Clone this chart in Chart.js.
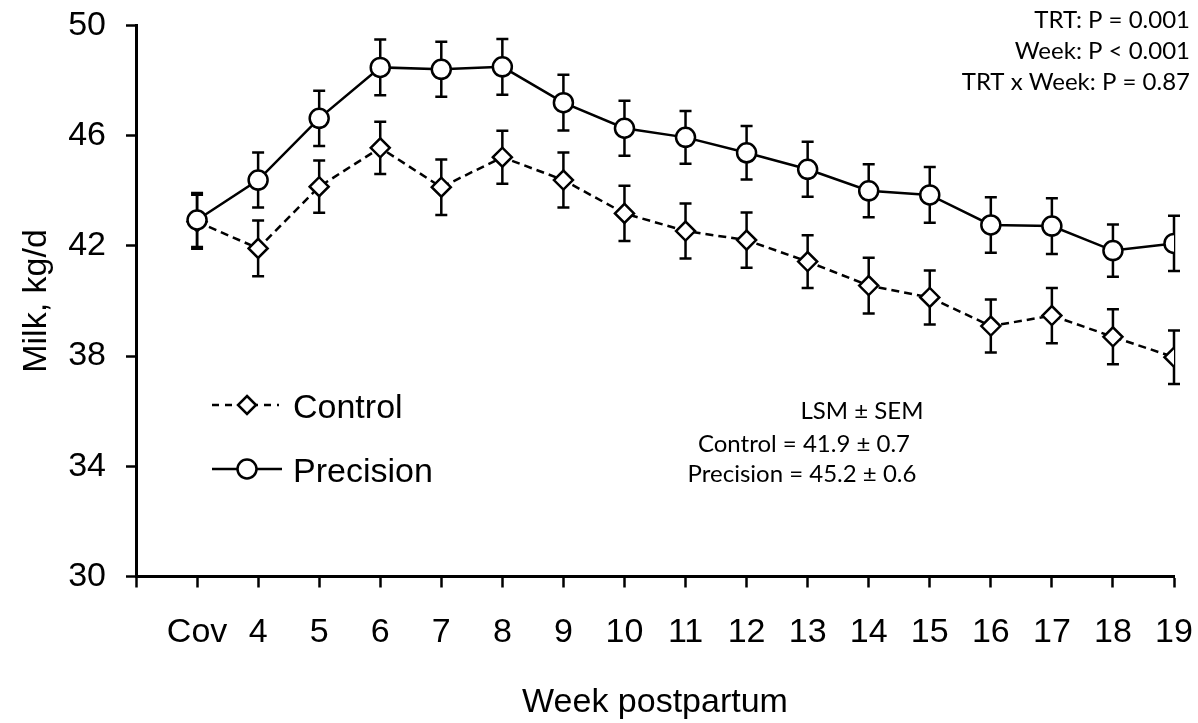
<!DOCTYPE html>
<html>
<head>
<meta charset="utf-8">
<title>Milk yield by week postpartum</title>
<script src="https://cdn.jsdelivr.net/npm/chart.js@4/dist/chart.umd.min.js"></script>
<style>
    html, body { margin: 0; padding: 0; background: #fff; }
    canvas { display: block; }
</style>
</head>
<body>
<canvas id="milk-chart" width="1198" height="723"></canvas>
<script>
// Week labels (Cov = covariate period)
const weeks = ['Cov', '4', '5', '6', '7', '8', '9', '10', '11', '12', '13', '14', '15', '16', '17', '18', '19'];

// Milk yield, kg/d, with SEM for the error bars
const controlMilk = [42.88, 41.91, 44.15, 45.56, 44.13, 45.22, 44.39, 43.18, 42.54, 42.21, 41.43, 40.56, 40.13, 39.09, 39.47, 38.70, 37.96];
const controlSem = [0.98, 1.01, 0.95, 0.95, 1.01, 0.96, 1.00, 1.00, 1.00, 1.00, 0.96, 1.01, 0.98, 0.96, 1.00, 1.00, 0.97];

const precisionMilk = [42.94, 44.39, 46.63, 48.48, 48.41, 48.50, 47.20, 46.27, 45.94, 45.38, 44.78, 44.00, 43.85, 42.76, 42.72, 41.83, 42.09];
const precisionSem = [0.98, 1.00, 1.00, 1.01, 1.00, 1.01, 1.01, 1.00, 0.96, 0.97, 1.00, 0.96, 1.01, 1.01, 1.01, 0.95, 1.00];

const yTicks = [30, 34, 38, 42, 46, 50];

const statLines = ['TRT: P = 0.001', 'Week: P < 0.001', 'TRT x Week: P = 0.87'];
const lsmLines = ['LSM \u00b1 SEM', 'Control = 41.9 \u00b1 0.7', 'Precision = 45.2 \u00b1 0.6'];

const ARIAL = '"Liberation Sans", Arial, sans-serif';
const NOTE_FONT = '24px Lato, "Open Sans", sans-serif';

// Points sit at x = 1..n so there is one empty step before "Cov"
function toPoints(values) {
    return values.map((v, i) => ({ x: i + 1, y: v }));
}

// Let layout.padding alone decide the plot edges
function clearScalePadding(scale) {
    scale.paddingTop = 0;
    scale.paddingBottom = 0;
    scale.paddingLeft = 0;
    scale.paddingRight = 0;
}

// Vertical SEM bars with caps, drawn under the markers
const errorBarPlugin = {
    id: 'errorBars',
    beforeDatasetsDraw(chart) {
        const ctx = chart.ctx;
        const yScale = chart.scales.y;
        ctx.save();
        ctx.strokeStyle = '#000';
        ctx.lineWidth = 2.5;
        chart.data.datasets.forEach((ds, di) => {
            const meta = chart.getDatasetMeta(di);
            meta.data.forEach((pt, i) => {
                const sem = ds.sem[i];
                const val = ds.data[i].y;
                const top = yScale.getPixelForValue(val + sem);
                const bottom = yScale.getPixelForValue(val - sem);
                ctx.beginPath();
                ctx.moveTo(pt.x, top);
                ctx.lineTo(pt.x, bottom);
                ctx.moveTo(pt.x - 6, top);
                ctx.lineTo(pt.x + 6, top);
                ctx.moveTo(pt.x - 6, bottom);
                ctx.lineTo(pt.x + 6, bottom);
                ctx.stroke();
            });
        });
        ctx.restore();
    }
};

// Legend symbols and the statistics text blocks
const notesPlugin = {
    id: 'notes',
    afterDraw(chart) {
        const ctx = chart.ctx;
        ctx.save();

        // legend: line sample, marker, label
        ctx.strokeStyle = '#000';
        ctx.fillStyle = '#fff';
        ctx.lineWidth = 2.5;

        ctx.setLineDash([7, 6]);
        ctx.beginPath();
        ctx.moveTo(212, 405);
        ctx.lineTo(279, 405);
        ctx.stroke();
        ctx.setLineDash([]);
        ctx.beginPath();
        ctx.moveTo(247, 396);
        ctx.lineTo(256, 405);
        ctx.lineTo(247, 414);
        ctx.lineTo(238, 405);
        ctx.closePath();
        ctx.fill();
        ctx.stroke();

        ctx.beginPath();
        ctx.moveTo(212, 469);
        ctx.lineTo(282, 469);
        ctx.stroke();
        ctx.beginPath();
        ctx.arc(247, 469, 9.5, 0, Math.PI * 2);
        ctx.fill();
        ctx.stroke();

        ctx.fillStyle = '#000';
        ctx.font = '34px ' + ARIAL;
        ctx.textAlign = 'left';
        ctx.textBaseline = 'alphabetic';
        ctx.fillText('Control', 293, 418);
        ctx.fillText('Precision', 293, 482);

        // P-values, top right
        ctx.font = NOTE_FONT;
        ctx.textAlign = 'right';
        [27.5, 58.5, 89.5].forEach((y, i) => ctx.fillText(statLines[i], 1190, y));

        // LSM block
        ctx.textAlign = 'center';
        ctx.fillText(lsmLines[0], 862, 419);
        ctx.fillText(lsmLines[1], 804, 451.5);
        ctx.fillText(lsmLines[2], 802, 481.5);

        ctx.restore();
    }
};

const ctx = document.getElementById('milk-chart');

new Chart(ctx, {
    type: 'line',
    data: {
        datasets: [
            {
                label: 'Control',
                data: toPoints(controlMilk),
                sem: controlSem,
                order: 2,
                borderColor: '#000',
                borderWidth: 2.5,
                borderDash: [8, 5],
                pointStyle: 'rectRot',
                pointRadius: 9.5,
                pointBorderWidth: 2.5,
                pointBackgroundColor: '#fff',
                pointBorderColor: '#000',
                tension: 0
            },
            {
                label: 'Precision',
                data: toPoints(precisionMilk),
                sem: precisionSem,
                order: 1,
                borderColor: '#000',
                borderWidth: 2.5,
                pointStyle: 'circle',
                pointRadius: 9.5,
                pointBorderWidth: 2.5,
                pointBackgroundColor: '#fff',
                pointBorderColor: '#000',
                tension: 0
            }
        ]
    },
    options: {
        responsive: false,
        animation: false,
        devicePixelRatio: 1,
        layout: {
            padding: { top: 25.5, right: 24, bottom: 0, left: 0 }
        },
        plugins: {
            legend: { display: false },
            tooltip: { enabled: false }
        },
        scales: {
            x: {
                type: 'linear',
                min: 0,
                max: weeks.length,
                afterFit(scale) {
                    scale.height = 146.5;
                    clearScalePadding(scale);
                },
                ticks: {
                    stepSize: 1,
                    autoSkip: false,
                    maxRotation: 0,
                    padding: 25,
                    color: '#000',
                    font: { family: ARIAL, size: 34 },
                    callback: value => weeks[value - 1] || ''
                },
                grid: {
                    drawOnChartArea: false,
                    tickLength: 11,
                    tickWidth: 2.5,
                    tickColor: '#000'
                },
                border: { color: '#000', width: 3 },
                title: {
                    display: true,
                    text: 'Week postpartum',
                    color: '#000',
                    font: { family: ARIAL, size: 34 },
                    padding: { top: 0, bottom: 0 }
                }
            },
            y: {
                min: 30,
                max: 50,
                afterFit(scale) {
                    scale.width = 136;
                    clearScalePadding(scale);
                },
                afterBuildTicks(scale) {
                    scale.ticks = yTicks.map(v => ({ value: v }));
                },
                ticks: {
                    padding: 20,
                    color: '#000',
                    font: { family: ARIAL, size: 34 }
                },
                grid: {
                    drawOnChartArea: false,
                    tickLength: 10,
                    tickWidth: 2.5,
                    tickColor: '#000'
                },
                border: { color: '#000', width: 3 },
                title: {
                    display: true,
                    text: 'Milk, kg/d',
                    color: '#000',
                    font: { family: ARIAL, size: 34 },
                    padding: { top: 16, bottom: 0 }
                }
            }
        }
    },
    plugins: [errorBarPlugin, notesPlugin]
});
</script>
</body>
</html>
